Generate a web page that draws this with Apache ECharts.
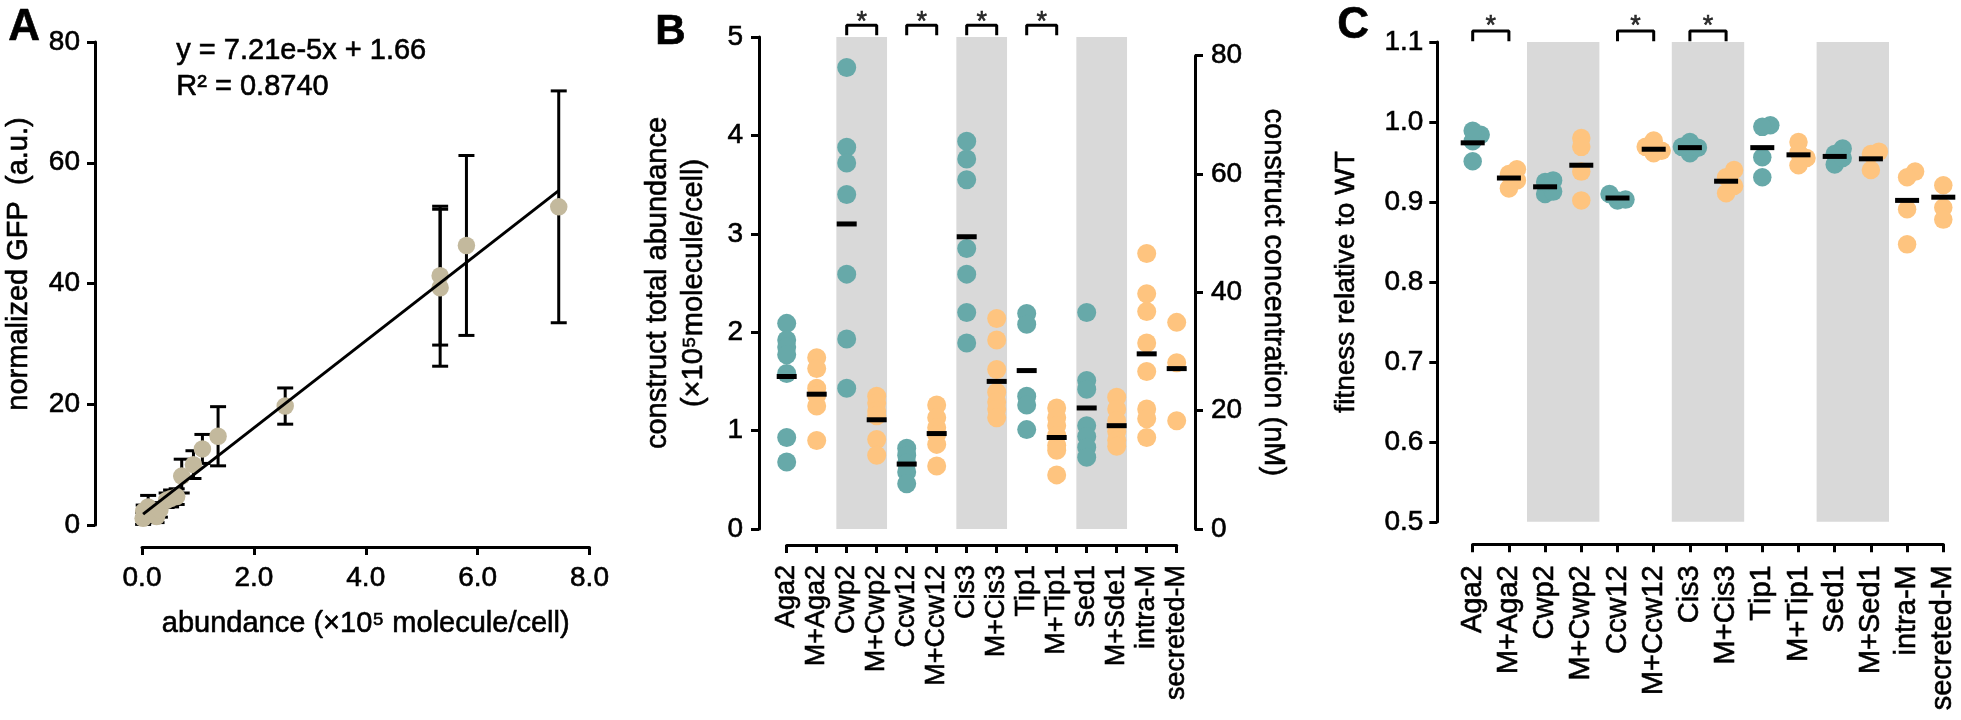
<!DOCTYPE html>
<html><head><meta charset="utf-8">
<script src="https://cdn.jsdelivr.net/npm/echarts@6/dist/echarts.min.js"></script>
<style>html,body{margin:0;padding:0;background:#fff}#c{width:1961px;height:720px}</style>
</head><body><div id="c"></div>
<script>
// ---------- Panel A data ----------
const abundanceA = [0.02, 0.03, 0.11, 0.26, 0.32, 0.44, 0.52, 0.62, 0.71, 0.92, 1.08, 1.36, 2.56, 5.33, 5.33, 5.80, 7.45];
const gfpA       = [1.1, 2.3, 3.0, 1.4, 2.5, 4.1, 4.4, 4.7, 8.1, 10.0, 12.6, 14.7, 19.7, 41.3, 39.3, 46.3, 52.7];
const gfpErrA    = [1.0, 1.0, 1.9, 1.0, 1.2, 1.2, 1.4, 1.3, 2.8, 2.3, 2.4, 4.9, 3.0, 11.5, 13.0, 14.9, 19.2];
const fitSlope = 7.21;      // per 1e5 molecule/cell (7.21e-5 per molecule)
const fitIntercept = 1.66;

// ---------- Panel B data ----------
const catsB = ['Aga2','M+Aga2','Cwp2','M+Cwp2','Ccw12','M+Ccw12','Cis3','M+Cis3','Tip1','M+Tip1','Sed1','M+Sde1','intra-M','secreted-M'];
const abundB = [
  [2.09, 1.92, 1.85, 1.77, 1.58, 0.93, 0.68],
  [1.74, 1.63, 1.43, 1.36, 1.25, 0.90],
  [4.69, 3.88, 3.72, 3.40, 2.59, 1.93, 1.43],
  [1.35, 1.28, 1.20, 1.15, 0.91, 0.75],
  [0.82, 0.75, 0.67, 0.58, 0.46],
  [1.26, 1.13, 1.03, 0.96, 0.86, 0.64],
  [3.94, 3.76, 3.55, 2.85, 2.59, 2.20, 1.89],
  [2.14, 1.92, 1.62, 1.39, 1.29, 1.22, 1.13],
  [2.19, 2.08, 1.35, 1.26, 1.01],
  [1.23, 1.13, 1.05, 0.95, 0.85, 0.80, 0.55],
  [2.20, 1.51, 1.42, 1.05, 0.94, 0.83, 0.73],
  [1.34, 1.22, 1.10, 0.99, 0.90, 0.84],
  [2.80, 2.39, 2.21, 1.89, 1.60, 1.22, 1.12, 0.93],
  [2.10, 1.69, 1.10]
];
const meanB = [1.55, 1.37, 3.10, 1.11, 0.66, 0.97, 2.97, 1.50, 1.61, 0.93, 1.23, 1.05, 1.78, 1.63];
const sigPairsB = [[2,3],[4,5],[6,7],[8,9]];
const bandStartsB = [2, 6, 10];

// ---------- Panel C data ----------
const catsC = ['Aga2','M+Aga2','Cwp2','M+Cwp2','Ccw12','M+Ccw12','Cis3','M+Cis3','Tip1','M+Tip1','Sed1','M+Sed1','intra-M','secreted-M'];
const fitnessC = [
  [0.976, 0.984, 0.989, 0.951],
  [0.927, 0.935, 0.941, 0.917],
  [0.910, 0.913, 0.925, 0.927],
  [0.980, 0.969, 0.938, 0.902],
  [0.902, 0.910, 0.903],
  [0.961, 0.964, 0.969, 0.977],
  [0.961, 0.968, 0.975, 0.969],
  [0.911, 0.920, 0.931, 0.940],
  [0.996, 0.994, 0.956, 0.931],
  [0.975, 0.962, 0.955, 0.946],
  [0.967, 0.960, 0.947, 0.955],
  [0.963, 0.960, 0.940],
  [0.938, 0.931, 0.891, 0.847],
  [0.931, 0.921, 0.893, 0.878]
];
const meanC = [0.974, 0.930, 0.919, 0.946, 0.905, 0.966, 0.968, 0.926, 0.968, 0.959, 0.957, 0.954, 0.902, 0.906];
const sigPairsC = [[0,1],[4,5],[6,7]];
const bandStartsC = [2, 6, 10];

// ---------- style ----------
const FONT = 'Liberation Sans, Arial, Helvetica, sans-serif';
const TEAL = '#67a9a9', ORANGE = '#fec47f', TAN = '#c3b99d', BAND = '#d9d9d9';
const TB = {textBorderColor:'#000', textBorderWidth:0.6};
const isNative = i => (i % 2 === 0 && i < 12);
const colorOf = i => isNative(i) ? TEAL : ORANGE;

// grids: data grids plus thin axis-only grids (detached axes)
const grids = [
  {left:142,    top:42,    width:447.5, height:483},   // 0 A data
  {left:95,     top:42,    width:10,    height:483},   // 1 A y-axis
  {left:142,    top:537,   width:447.5, height:10},    // 2 A x-axis
  {left:786.7,  top:37,    width:390,   height:492},   // 3 B data
  {left:759,    top:37,    width:10,    height:492},   // 4 B left y-axis
  {left:786.7,  top:535,   width:390,   height:10},    // 5 B x-axis
  {left:1185,   top:55.7,  width:10,    height:473.3}, // 6 B right y-axis
  {left:1472.7, top:42.1,  width:470.6, height:479.7}, // 7 C data
  {left:1437.3, top:42.1,  width:10,    height:479.7}, // 8 C y-axis
  {left:1472.7, top:534.3, width:470.6, height:10}     // 9 C x-axis
];

const axLine = () => ({show:true, onZero:false, lineStyle:{color:'#000', width:3}});
const axTick = () => ({show:true, length:8, lineStyle:{color:'#000', width:3}});
const lab = (size, extra) => Object.assign({color:'#000', fontSize:size, fontFamily:FONT}, TB, extra||{});
const nts = (size, extra) => Object.assign({color:'#000', fontSize:size, fontFamily:FONT}, TB, extra||{});
const hidden = (g, min, max) => ({gridIndex:g, type:'value', min, max, show:false});

const xAxis = [
  hidden(0, 0, 8),
  hidden(1, 0, 1),
  {gridIndex:2, type:'value', min:0, max:8, interval:2,
   axisLine:axLine(), axisTick:axTick(), splitLine:{show:false},
   axisLabel:lab(28,{margin:17, formatter:v=>v.toFixed(1)}),
   name:'abundance (×10⁵ molecule/cell)', nameLocation:'middle', nameGap:62,
   nameTextStyle:nts(29)},
  hidden(3, 0, 13),
  hidden(4, 0, 1),
  {gridIndex:5, type:'value', min:0, max:13, interval:1,
   axisLine:axLine(), axisTick:axTick(), splitLine:{show:false},
   axisLabel:lab(27,{margin:20, rotate:90, showMinLabel:true, showMaxLabel:true, formatter:v=>catsB[Math.round(v)]||''})},
  hidden(6, 0, 1),
  hidden(7, 0, 13),
  hidden(8, 0, 1),
  {gridIndex:9, type:'value', min:0, max:13, interval:1,
   axisLine:axLine(), axisTick:axTick(), splitLine:{show:false},
   axisLabel:lab(29,{margin:21, rotate:90, showMinLabel:true, showMaxLabel:true, formatter:v=>catsC[Math.round(v)]||''})}
];
const yAxis = [
  hidden(0, 0, 80),
  {gridIndex:1, type:'value', min:0, max:80, interval:20,
   axisLine:axLine(), axisTick:axTick(), splitLine:{show:false},
   axisLabel:lab(28,{margin:15})},
  hidden(2, 0, 1),
  hidden(3, 0, 5),
  {gridIndex:4, type:'value', min:0, max:5, interval:1,
   axisLine:axLine(), axisTick:axTick(), splitLine:{show:false},
   axisLabel:lab(28,{margin:16}),
   name:'construct total abundance\n(×10⁵molecule/cell)', nameLocation:'middle', nameRotate:90, nameGap:47,
   nameTextStyle:nts(29,{lineHeight:36})},
  hidden(5, 0, 1),
  {gridIndex:6, type:'value', position:'right', min:0, max:80, interval:20,
   axisLine:axLine(), axisTick:axTick(), splitLine:{show:false},
   axisLabel:lab(28,{margin:16}),
   name:'construct concentration (nM)', nameLocation:'middle', nameRotate:-90, nameGap:63,
   nameTextStyle:nts(29)},
  hidden(7, 0.5, 1.1),
  {gridIndex:8, type:'value', min:0.5, max:1.1, interval:0.1,
   axisLine:axLine(), axisTick:axTick(), splitLine:{show:false},
   axisLabel:lab(28,{margin:14, formatter:v=>v.toFixed(1)}),
   name:'fitness relative to WT', nameLocation:'middle', nameRotate:90, nameGap:77,
   nameTextStyle:nts(28)},
  hidden(9, 0, 1)
];

// simple beeswarm offsets (pixel-based) for panel C
function swarm(vals, pxPerVal, pxPerCat, D, step){
  const order = vals.map((v,k)=>k).sort((a,b)=>vals[a]-vals[b]);
  const placed = []; const off = vals.map(()=>0);
  for (const k of order){
    const y = vals[k]*pxPerVal;
    const cands = [0, step, -step, 2*step, -2*step];
    let chosen = 0;
    for (const dx of cands){
      if (placed.every(p => Math.hypot(p.x-dx, p.y-y) >= D)){ chosen = dx; break; }
    }
    off[k] = chosen; placed.push({x:chosen, y});
  }
  return off.map(o => o/pxPerCat);
}

const series = [];
[1,2,4,5,6,8,9].forEach(g => series.push({type:'scatter', xAxisIndex:g, yAxisIndex:g, data:[]}));

// ----- Panel A series -----
series.push({
  type:'custom', xAxisIndex:0, yAxisIndex:0, z:2, silent:true,
  data: abundanceA.map((x,i)=>[x, gfpA[i]-gfpErrA[i], gfpA[i]+gfpErrA[i]]),
  encode:{x:0, y:[1,2]},
  renderItem(params, api){
    const x = api.value(0), lo = api.value(1), hi = api.value(2);
    const p1 = api.coord([x, hi]), p2 = api.coord([x, lo]);
    const hw = 8, st = {stroke:'#000', lineWidth:3};
    return {type:'group', children:[
      {type:'line', shape:{x1:p1[0], y1:p1[1], x2:p2[0], y2:p2[1]}, style:st},
      {type:'line', shape:{x1:p1[0]-hw, y1:p1[1], x2:p1[0]+hw, y2:p1[1]}, style:st},
      {type:'line', shape:{x1:p2[0]-hw, y1:p2[1], x2:p2[0]+hw, y2:p2[1]}, style:st}
    ]};
  }
});
series.push({
  type:'scatter', xAxisIndex:0, yAxisIndex:0, z:3, symbolSize:17.5,
  itemStyle:{color:TAN, opacity:1},
  data: abundanceA.map((x,i)=>[x, gfpA[i]])
});
const xMinA = Math.min(...abundanceA), xMaxA = Math.max(...abundanceA);
series.push({
  type:'line', xAxisIndex:0, yAxisIndex:0, z:4, symbol:'none',
  lineStyle:{color:'#000', width:3},
  data:[[xMinA, fitSlope*xMinA+fitIntercept],[xMaxA, fitSlope*xMaxA+fitIntercept]]
});

// ----- Panel B series -----
series.push({
  type:'scatter', xAxisIndex:3, yAxisIndex:3, z:1, data:[], silent:true,
  markArea:{silent:true, itemStyle:{color:BAND, opacity:1},
    data: bandStartsB.map(i=>[{xAxis:i-0.345},{xAxis:i+1.345}])}
});
const ptsB = [];
abundB.forEach((arr,i)=>arr.forEach(v=>ptsB.push({value:[i,v], itemStyle:{color:colorOf(i)}})));
series.push({type:'scatter', xAxisIndex:3, yAxisIndex:3, z:2, symbolSize:19, data:ptsB, itemStyle:{opacity:1}});
series.push({type:'scatter', xAxisIndex:3, yAxisIndex:3, z:3, symbol:'rect', symbolSize:[20,5],
  itemStyle:{color:'#000', opacity:1}, data: meanB.map((m,i)=>[i,m])});
sigPairsB.forEach(([a,b])=>{
  series.push({type:'line', xAxisIndex:3, yAxisIndex:3, z:4, clip:false, symbol:'none',
    lineStyle:{color:'#000', width:3},
    data:[[a,5.018],[a,5.119],[b,5.119],[b,5.018]]});
});
series.push({type:'scatter', xAxisIndex:3, yAxisIndex:3, z:4, clip:false, symbolSize:1,
  itemStyle:{color:'rgba(0,0,0,0)'},
  label:Object.assign({show:true, position:'inside', formatter:'*', color:'#000', fontSize:27, fontFamily:FONT, offset:[0,8]}, TB),
  data: sigPairsB.map(([a,b])=>[(a+b)/2, 5.224])});

// ----- Panel C series -----
series.push({
  type:'scatter', xAxisIndex:7, yAxisIndex:7, z:1, data:[], silent:true,
  markArea:{silent:true, itemStyle:{color:BAND, opacity:1},
    data: bandStartsC.map(i=>[{xAxis:i-0.5},{xAxis:i+1.5}])}
});
const pxPerValC = grids[7].height/0.6, pxPerCatC = grids[7].width/13;
const ptsC = [];
fitnessC.forEach((arr,i)=>{
  const offs = swarm(arr, pxPerValC, pxPerCatC, 8, 8);
  arr.forEach((v,k)=>ptsC.push({value:[i+offs[k], v], itemStyle:{color:colorOf(i)}}));
});
series.push({type:'scatter', xAxisIndex:7, yAxisIndex:7, z:2, symbolSize:18.5, data:ptsC, itemStyle:{opacity:1}});
series.push({type:'scatter', xAxisIndex:7, yAxisIndex:7, z:3, symbol:'rect', symbolSize:[24,5],
  itemStyle:{color:'#000', opacity:1}, data: meanC.map((m,i)=>[i,m])});
sigPairsC.forEach(([a,b])=>{
  series.push({type:'line', xAxisIndex:7, yAxisIndex:7, z:4, clip:false, symbol:'none',
    lineStyle:{color:'#000', width:3},
    data:[[a,1.101],[a,1.1139],[b,1.1139],[b,1.101]]});
});
series.push({type:'scatter', xAxisIndex:7, yAxisIndex:7, z:4, clip:false, symbolSize:1,
  itemStyle:{color:'rgba(0,0,0,0)'},
  label:Object.assign({show:true, position:'inside', formatter:'*', color:'#000', fontSize:27, fontFamily:FONT, offset:[0,8]}, TB),
  data: sigPairsC.map(([a,b])=>[(a+b)/2, 1.129])});

const gtext = (extra, style) => Object.assign({type:'text'}, extra,
  {style:Object.assign({fill:'#000', fontFamily:FONT, stroke:'#000', lineWidth:0.6}, style)});

const option = {
  animation:false,
  backgroundColor:'#fff',
  textStyle:{fontFamily:FONT},
  grid:grids,
  xAxis, yAxis,
  graphic:[
    gtext({left:8, top:6}, {text:'A', fontSize:44, fontWeight:'bold'}),
    gtext({left:655, top:11}, {text:'B', fontSize:42, fontWeight:'bold'}),
    gtext({left:1337, top:4}, {text:'C', fontSize:44, fontWeight:'bold'}),
    gtext({left:176, top:33}, {text:'y = 7.21e-5x + 1.66\nR² = 0.8740', fontSize:29, lineHeight:36}),
    gtext({x:19, y:264, rotation:Math.PI/2}, {text:'normalized GFP  (a.u.)', fontSize:29, align:'center', verticalAlign:'middle'})
  ],
  series
};
const chart = echarts.init(document.getElementById('c'));
chart.setOption(option);
</script>
</body></html>
